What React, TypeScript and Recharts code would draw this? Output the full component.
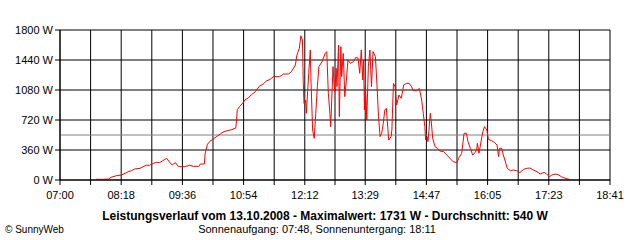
import { LineChart, Line, XAxis, YAxis, CartesianGrid, ReferenceLine } from 'recharts'

const times = [
  '07:46', '07:55', '08:02', '08:05', '08:12', '08:18', '08:23', '08:28', '08:31', '08:35',
  '08:42', '08:46', '08:50', '08:54', '08:59', '09:03', '09:07', '09:11', '09:16', '09:20',
  '09:23', '09:27', '09:31', '09:39', '09:45', '09:50', '09:57', '09:59', '10:04', '10:05',
  '10:08', '10:11', '10:15', '10:20', '10:24', '10:28', '10:33', '10:39', '10:44', '10:45',
  '10:46', '10:49', '10:53', '10:56', '11:00', '11:04', '11:09', '11:14', '11:19', '11:23',
  '11:28', '11:32', '11:40', '11:45', '11:51', '11:55', '12:00', '12:02', '12:05', '12:07',
  '12:09', '12:10', '12:11', '12:13', '12:14', '12:17', '12:19', '12:20', '12:22', '12:24',
  '12:26', '12:28', '12:30', '12:34', '12:38', '12:40', '12:42', '12:44', '12:45', '12:47',
  '12:48', '12:50', '12:52', '12:53', '12:55', '12:56', '12:58', '12:59', '13:01', '13:03',
  '13:05', '13:07', '13:10', '13:14', '13:17', '13:20', '13:22', '13:24', '13:26', '13:27',
  '13:28', '13:29', '13:30', '13:31', '13:33', '13:35', '13:37', '13:39', '13:42', '13:44',
  '13:46', '13:48', '13:50', '13:52', '13:54', '13:56', '13:57', '13:59', '14:02', '14:03',
  '14:05', '14:07', '14:09', '14:12', '14:15', '14:18', '14:22', '14:25', '14:28', '14:30',
  '14:35', '14:38', '14:41', '14:43', '14:45', '14:46', '14:48', '14:49', '14:52', '14:53',
  '14:55', '14:58', '15:01', '15:04', '15:09', '15:13', '15:17', '15:21', '15:26', '15:28',
  '15:32', '15:35', '15:38', '15:40', '15:43', '15:46', '15:49', '15:51', '15:52', '15:54',
  '15:57', '15:59', '16:01', '16:04', '16:06', '16:10', '16:14', '16:17', '16:19', '16:20',
  '16:23', '16:25', '16:27', '16:30', '16:34', '16:38', '16:42', '16:46', '16:51', '16:55',
  '16:59', '17:03', '17:08', '17:12', '17:17', '17:20', '17:24', '17:27', '17:31', '17:35',
  '17:39', '17:44', '17:49',
]

const watts = [
  8, 8, 12, 32, 52, 60, 80, 104, 112, 132,
  140, 160, 176, 176, 200, 212, 208, 232, 260, 208,
  180, 208, 160, 160, 176, 164, 164, 192, 192, 320,
  430, 464, 490, 524, 550, 576, 592, 604, 624, 720,
  844, 884, 924, 964, 984, 1024, 1060, 1124, 1152, 1188,
  1208, 1240, 1240, 1272, 1272, 1300, 1380, 1500, 1580, 1731,
  1680, 1180, 920, 960, 800, 1280, 1560, 1160, 600, 500,
  800, 1120, 1360, 1420, 1520, 1540, 1040, 800, 640, 1120,
  1360, 1060, 1340, 1120, 1620, 760, 1600, 1240, 1520, 1000,
  1200, 1440, 1400, 1420, 1472, 1460, 1280, 1560, 1200, 1440,
  840, 1120, 1000, 720, 1360, 1560, 1120, 1540, 1480, 1140,
  760, 520, 560, 680, 840, 860, 720, 480, 520, 600,
  1160, 1120, 900, 1020, 980, 1140, 1160, 1160, 1120, 1072,
  1072, 1100, 960, 800, 640, 480, 520, 460, 800, 720,
  500, 400, 380, 348, 340, 300, 260, 220, 208, 260,
  320, 560, 560, 460, 380, 300, 328, 360, 440, 320,
  480, 580, 640, 600, 488, 472, 448, 420, 280, 380,
  380, 300, 240, 140, 112, 120, 112, 88, 128, 140,
  144, 120, 100, 72, 92, 72, 40, 60, 72, 64,
  40, 20, 8,
]

const xTickLabels = ['07:00', '08:18', '09:36', '10:54', '12:12', '13:29', '14:47', '16:05', '17:23', '18:41']
const yTicks = [0, 360, 720, 1080, 1440, 1800]
const average = 540

const title = 'Leistungsverlauf vom 13.10.2008 - Maximalwert: 1731 W - Durchschnitt: 540 W'
const subtitle = 'Sonnenaufgang: 07:48, Sonnenuntergang: 18:11'
const credit = '© SunnyWeb'

const FONT = '"Liberation Sans", Arial, sans-serif'

const toMinutes = (s: string) => {
  const [h, m] = s.split(':').map(Number)
  return h * 60 + m
}

const data = times.map((t, i) => ({ t: toMinutes(t), w: watts[i] }))

// labelled ticks, plus an unlabelled one halfway between each pair (grid every half step)
const majorTicks = xTickLabels.map(toMinutes)
const xTicks = majorTicks.flatMap((v, i) => (i === 0 ? [v] : [(majorTicks[i - 1] + v) / 2, v]))

function xLabel(v: number) {
  const i = majorTicks.findIndex(m => Math.abs(m - v) < 0.01)
  return i >= 0 ? xTickLabels[i] : ''
}

export default function App() {
  return (
    <div style={{ position: 'relative', width: 640, height: 240, background: '#fff', fontFamily: FONT }}>
      <style>{'body{margin:0}'}</style>
      <LineChart width={640} height={240} data={data} margin={{ top: 30, right: 30, left: 0, bottom: 40 }}>
        <CartesianGrid stroke="#000" strokeWidth={1} />
        <XAxis
          dataKey="t"
          type="number"
          domain={[majorTicks[0], majorTicks[majorTicks.length - 1]]}
          ticks={xTicks}
          interval={0}
          tickFormatter={xLabel}
          tick={{ fontSize: 11, fill: '#000', fontFamily: FONT }}
          tickSize={5}
          tickMargin={6}
          stroke="#000"
          height={20}
          allowDataOverflow
        />
        <YAxis
          type="number"
          domain={[0, 1800]}
          ticks={yTicks}
          interval={0}
          tickFormatter={v => `${v} W`}
          tick={{ fontSize: 11, fill: '#000', fontFamily: FONT }}
          tickSize={5}
          tickMargin={2}
          stroke="#000"
          width={60}
        />
        <ReferenceLine y={average} stroke="#808080" strokeWidth={1} />
        <Line
          type="linear"
          dataKey="w"
          stroke="#ff0000"
          strokeWidth={1}
          dot={false}
          isAnimationActive={false}
        />
      </LineChart>
      <div style={{ position: 'absolute', left: 0, top: 209, width: 650, textAlign: 'center', fontSize: 12, fontWeight: 'bold', lineHeight: '14px' }}>
        {title}
      </div>
      <div style={{ position: 'absolute', left: 0, top: 223, width: 634, textAlign: 'center', fontSize: 11, lineHeight: '13px' }}>
        {subtitle}
      </div>
      <div style={{ position: 'absolute', left: 5, top: 223, fontSize: 10, lineHeight: '13px' }}>
        {credit}
      </div>
    </div>
  )
}
